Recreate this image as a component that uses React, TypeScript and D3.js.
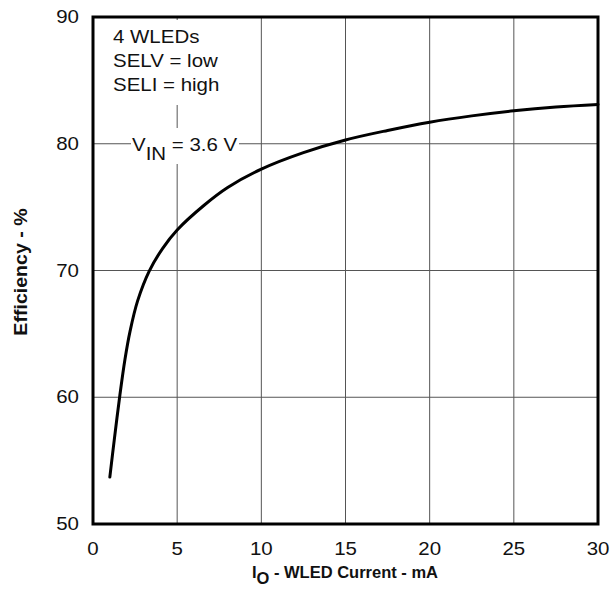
import React, { useEffect, useRef } from "react";
import * as d3 from "d3";

// load current (mA) and efficiency (%)
const currentMA = [1.0, 1.26, 1.6, 1.9, 2.2, 2.65, 3.34, 4.14, 5, 6.6, 8, 10, 12.5, 15, 17.5, 20, 22.5, 25, 27.5, 30];
const efficiency = [53.7, 56.6, 60.2, 63.0, 65.2, 67.6, 69.95, 71.75, 73.2, 75.15, 76.55, 78.0, 79.3, 80.3, 81.05, 81.7, 82.2, 82.6, 82.9, 83.1];

const xTicks = [0, 5, 10, 15, 20, 25, 30];
const yTicks = [50, 60, 70, 80, 90];
const noteLines = ["4 WLEDs", "SELV = low", "SELI = high"];

function App() {
  const svgRef = useRef<SVGSVGElement | null>(null);
  const width = 610;
  const height = 589;
  const font = "'Liberation Sans', Arial, sans-serif";
  const sx = 1.17; // the original lettering is wider than Arial

  useEffect(() => {
    const svg = d3.select(svgRef.current);
    svg.selectAll("*").remove();

    const left = 93, right = 598, top = 17, bottom = 524;
    const x = d3.scaleLinear().domain([0, 30]).range([left, right]);
    const y = d3.scaleLinear().domain([50, 90]).range([bottom, top]);

    const g = svg.append("g");

    // grid
    g.selectAll("line.vgrid")
      .data(xTicks.slice(1, -1))
      .join("line")
      .attr("x1", d => x(d)).attr("x2", d => x(d))
      .attr("y1", top).attr("y2", bottom)
      .attr("stroke", "#555").attr("stroke-width", 1);
    g.selectAll("line.hgrid")
      .data(yTicks.slice(1, -1))
      .join("line")
      .attr("x1", left).attr("x2", right)
      .attr("y1", d => y(d)).attr("y2", d => y(d))
      .attr("stroke", "#555").attr("stroke-width", 1);

    // white boxes behind annotations
    g.append("rect").attr("x", left + 3).attr("y", top + 3).attr("width", 135).attr("height", 85).attr("fill", "#fff");
    g.append("rect").attr("x", 131).attr("y", 128).attr("width", 108).attr("height", 36).attr("fill", "#fff");

    // annotation text
    g.selectAll("text.note")
      .data(noteLines)
      .join("text")
      .attr("transform", (d, i) => `translate(113,${43 + i * 24}) scale(${sx},1)`)
      .attr("font-family", font).attr("font-size", 17.5).attr("fill", "#111")
      .text(d => d);

    const vin = g.append("text")
      .attr("transform", `translate(132,${y(80) + 7}) scale(${sx},1)`)
      .attr("font-family", font).attr("font-size", 17.5).attr("fill", "#111");
    vin.append("tspan").text("V");
    vin.append("tspan").attr("dy", 9).text("IN");
    vin.append("tspan").attr("dy", -9).text(" = 3.6 V");

    // curve
    const line = d3.line<number>()
      .x((d, i) => x(currentMA[i]))
      .y(d => y(d))
      .curve(d3.curveCatmullRom.alpha(0.5));
    g.append("path")
      .attr("d", line(efficiency))
      .attr("fill", "none")
      .attr("stroke", "#000")
      .attr("stroke-width", 3)
      .attr("stroke-linecap", "round");

    // frame
    g.append("rect")
      .attr("x", left).attr("y", top)
      .attr("width", right - left).attr("height", bottom - top)
      .attr("fill", "none").attr("stroke", "#000").attr("stroke-width", 3);

    // tick labels
    g.selectAll("text.xt")
      .data(xTicks)
      .join("text")
      .attr("transform", d => `translate(${x(d)},${bottom + 31}) scale(${sx},1)`)
      .attr("text-anchor", "middle")
      .attr("font-family", font).attr("font-size", 17.5).attr("fill", "#111")
      .text(d => d);
    g.selectAll("text.yt")
      .data(yTicks)
      .join("text")
      .attr("transform", d => `translate(${left - 14},${y(d) + 6}) scale(${sx},1)`)
      .attr("text-anchor", "end")
      .attr("font-family", font).attr("font-size", 17.5).attr("fill", "#111")
      .text(d => d);

    // axis titles
    const xt = g.append("text")
      .attr("x", 345).attr("y", 578)
      .attr("text-anchor", "middle")
      .attr("font-family", font).attr("font-size", 16.5).attr("font-weight", "bold").attr("fill", "#111");
    xt.append("tspan").text("I");
    xt.append("tspan").attr("dy", 6).text("O");
    xt.append("tspan").attr("dy", -6).text(" - WLED Current - mA");

    g.append("text")
      .attr("transform", `translate(27, 272) rotate(-90) scale(1.12,1)`)
      .attr("text-anchor", "middle")
      .attr("font-family", font).attr("font-size", 17.5).attr("font-weight", "bold").attr("fill", "#111")
      .text("Efficiency - %");
  }, []);

  return <svg ref={svgRef} width={width} height={height} style={{ position: "absolute", left: 0, top: 0 }} />;
}

export default App;
